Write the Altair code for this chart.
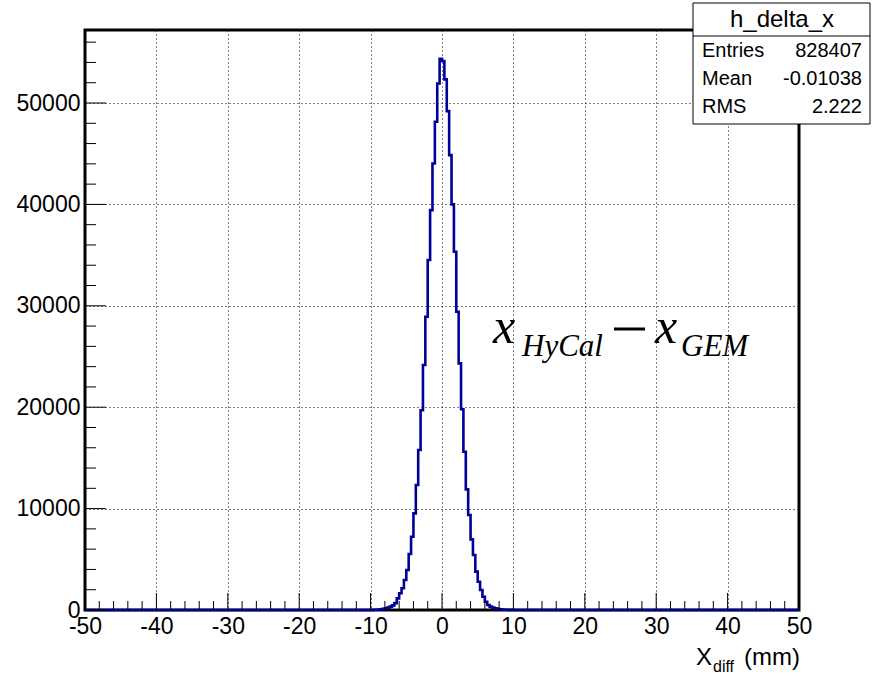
import altair as alt
import pandas as pd

# ---------------- data ----------------
X_MIN, X_MAX, N_BINS = -50.0, 50.0, 300          # bin width 1/3 mm
# counts of the bins from -10 mm to 0 mm (left of the peak)
left_counts = [13, 20, 32, 50, 75, 110, 160, 230, 330, 460,
               680, 1150, 1650, 2140, 2960, 3940, 5520, 7230, 9530, 12330,
               15780, 19700, 24160, 28920, 34510, 39440, 44040, 48150, 51930, 54350]
# counts of the bins from 0 mm to +10 mm (right of the peak)
right_counts = [54150, 52330, 49200, 44860, 40000, 35330, 29410, 24320, 19800, 15610,
                11900, 9370, 6970, 5420, 3780, 2790, 1970, 1310, 820, 490,
                330, 230, 160, 110, 75, 50, 32, 20, 13, 8]
empty_bins_each_side = 120

x_major = [-50, -40, -30, -20, -10, 0, 10, 20, 30, 40, 50]
y_major = [0, 10000, 20000, 30000, 40000, 50000]
Y_MAX = 57200

stat_title = "h_delta_x"
stat_names = ["Entries", "Mean", "RMS"]
stat_values = ["828407", "-0.01038", "2.222"]

# ---------------- build tables ----------------
counts = [0] * empty_bins_each_side + left_counts + right_counts + [0] * empty_bins_each_side
width_bin = (X_MAX - X_MIN) / N_BINS
edges = [X_MIN + i * width_bin for i in range(N_BINS)] + [X_MAX]
hist = pd.DataFrame({"x": edges, "y": counts + [counts[-1]]})

x_minor = [v for v in range(-48, 50, 2) if v % 10 != 0]
y_minor = [v for v in range(2000, Y_MAX, 2000) if v % 10000 != 0]

W, H = 714, 580
SANS = "Liberation Sans"
SERIF = "Liberation Serif"

x_axis = alt.Axis(values=x_major, labelExpr="'' + datum.value", labelFont=SANS,
                  labelFontSize=23, labelColor="black", labelPadding=5,
                  ticks=False, domain=False, grid=True, gridColor="black",
                  gridDash=[1, 3], gridOpacity=1, gridWidth=1, title=None,
                  labelFlush=False, labelOverlap=False)
y_axis = alt.Axis(values=y_major, labelExpr="'' + datum.value", labelFont=SANS,
                  labelFontSize=23, labelColor="black", labelPadding=5,
                  ticks=False, domain=False, grid=True, gridColor="black",
                  gridDash=[1, 3], gridOpacity=1, gridWidth=1, title=None,
                  labelFlush=False, labelOverlap=False)
xs = alt.Scale(domain=[X_MIN, X_MAX], nice=False, zero=False)
ys = alt.Scale(domain=[0, Y_MAX], nice=False, zero=True)


def X():
    return alt.X("x:Q", scale=xs, axis=x_axis)


def Y():
    return alt.Y("y:Q", scale=ys, axis=y_axis)


line = alt.Chart(hist).mark_line(interpolate="step-after", color="#000099",
                                 strokeWidth=2.6).encode(x=X(), y=Y())

xt_major = alt.Chart(pd.DataFrame({"x": x_major})).mark_rule(color="black", strokeWidth=1).encode(
    x=X(), y=alt.value(H), y2=alt.value(H - 17))
xt_minor = alt.Chart(pd.DataFrame({"x": x_minor})).mark_rule(color="black", strokeWidth=1).encode(
    x=X(), y=alt.value(H), y2=alt.value(H - 9))
yt_major = alt.Chart(pd.DataFrame({"y": y_major})).mark_rule(color="black", strokeWidth=1).encode(
    y=Y(), x=alt.value(0), x2=alt.value(21))
yt_minor = alt.Chart(pd.DataFrame({"y": y_minor})).mark_rule(color="black", strokeWidth=1).encode(
    y=Y(), x=alt.value(0), x2=alt.value(11))


def txt(s, x, y, size, font=SANS, align="left", style="normal", baseline="alphabetic"):
    return alt.Chart(pd.DataFrame({"t": [s]})).mark_text(
        align=align, baseline=baseline, font=font, fontSize=size, fontStyle=style,
        color="black").encode(text="t:N", x=alt.value(x), y=alt.value(y))


# stats box (canvas coords minus the plot offset 85, 30)
box = alt.Chart(pd.DataFrame({"t": [0]})).mark_rect(fill="white", stroke="black", strokeWidth=1).encode(
    x=alt.value(608), x2=alt.value(785), y=alt.value(-27), y2=alt.value(94))
box_div = alt.Chart(pd.DataFrame({"t": [0]})).mark_rule(color="black", strokeWidth=1).encode(
    x=alt.value(608), x2=alt.value(785), y=alt.value(6))
stats = [txt(stat_title, 697, -3, 24, align="center")]
for i, (n, v) in enumerate(zip(stat_names, stat_values)):
    by = 27 + i * 28
    stats.append(txt(n, 617, by, 20))
    stats.append(txt(v, 777, by, 20, align="right"))

# latex-like label  x_HyCal - x_GEM
latex = [
    txt("x", 408, 313, 50, font=SERIF, style="italic"),
    txt("HyCal", 437, 326, 31, font=SERIF, style="italic"),
    txt("x", 570, 313, 50, font=SERIF, style="italic"),
    txt("GEM", 596, 326, 31, font=SERIF, style="italic"),
]
minus = alt.Chart(pd.DataFrame({"t": [0]})).mark_rule(color="black", strokeWidth=3).encode(
    x=alt.value(529), x2=alt.value(560), y=alt.value(299))

# x axis title  X_diff (mm)
xtitle = [
    txt("X", 611, 635, 24),
    txt("diff", 628, 642, 16),
    txt("(mm)", 715, 635, 24, align="right"),
]

chart = alt.layer(
    line, xt_major, xt_minor, yt_major, yt_minor,
    *latex, minus, box, box_div, *stats, *xtitle
).properties(
    width=W, height=H,
    autosize=alt.AutoSizeParams(type="none"),
    padding={"left": 85, "top": 30, "right": 73, "bottom": 68},
    background="white",
).configure_view(stroke="black", strokeWidth=3)

chart.save("out.html", embed_options={"renderer": "svg", "actions": False})
